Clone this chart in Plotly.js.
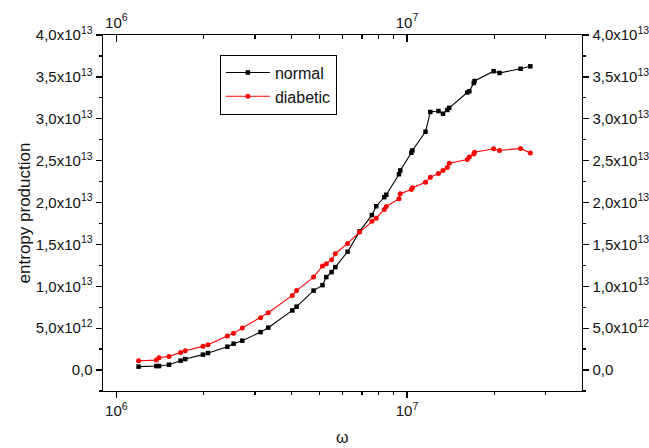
<!DOCTYPE html>
<html>
<head>
<meta charset="utf-8">
<script src="https://cdn.plot.ly/plotly-3.0.1.min.js"></script>
<style>
  html, body { margin: 0; padding: 0; background: #fff; }
  #chart { width: 649px; height: 448px; }
</style>
</head>
<body>
<div id="chart"></div>
<script>
// frequency ω (shared by both series)
const omega = [1.193e6, 1.373e6, 1.403e6, 1.518e6, 1.664e6, 1.727e6, 1.987e6, 2.067e6,
  2.409e6, 2.532e6, 2.713e6, 3.136e6, 3.333e6, 4.031e6, 4.171e6, 4.772e6, 5.121e6,
  5.277e6, 5.504e6, 5.668e6, 6.248e6, 6.870e6, 7.572e6, 7.841e6, 8.355e6, 8.489e6,
  9.386e6, 9.484e6, 1.035e7, 1.044e7, 1.158e7, 1.203e7, 1.283e7, 1.330e7, 1.376e7,
  1.398e7, 1.612e7, 1.638e7, 1.697e7, 1.708e7, 1.986e7, 2.081e7, 2.459e7, 2.656e7];

// entropy production, normal
const normal = [0.41e12, 0.48e12, 0.48e12, 0.64e12, 1.12e12, 1.31e12, 1.84e12, 2.03e12,
  2.79e12, 3.15e12, 3.51e12, 4.53e12, 5.06e12, 7.12e12, 7.57e12, 9.49e12, 10.14e12,
  11.10e12, 11.69e12, 12.29e12, 14.13e12, 16.55e12, 18.50e12, 19.56e12, 20.64e12, 20.93e12,
  23.38e12, 23.83e12, 25.95e12, 26.22e12, 28.45e12, 30.81e12, 30.93e12, 30.60e12, 31.05e12,
  31.31e12, 33.14e12, 33.28e12, 34.27e12, 34.51e12, 35.68e12, 35.47e12, 35.97e12, 36.26e12];

// entropy production, diabetic
const diabetic = [1.12e12, 1.19e12, 1.48e12, 1.63e12, 2.11e12, 2.31e12, 2.83e12, 3.03e12,
  4.06e12, 4.38e12, 5.01e12, 6.25e12, 6.85e12, 8.91e12, 9.49e12, 11.10e12, 12.43e12,
  12.70e12, 13.17e12, 13.89e12, 15.12e12, 16.47e12, 17.78e12, 18.13e12, 19.18e12, 19.53e12,
  20.45e12, 21.05e12, 21.56e12, 21.77e12, 22.43e12, 23.03e12, 23.47e12, 23.83e12, 24.19e12,
  24.70e12, 25.14e12, 25.44e12, 25.80e12, 26.01e12, 26.42e12, 26.22e12, 26.46e12, 25.92e12];

// tick labels
const yTickVals = [0, 5e12, 1e13, 1.5e13, 2e13, 2.5e13, 3e13, 3.5e13, 4e13];
const yTickText = ['0,0', '5,0x10<sup>12</sup>', '1,0x10<sup>13</sup>', '1,5x10<sup>13</sup>',
  '2,0x10<sup>13</sup>', '2,5x10<sup>13</sup>', '3,0x10<sup>13</sup>', '3,5x10<sup>13</sup>',
  '4,0x10<sup>13</sup>'];
const yMinorVals = [-2.5e12, 2.5e12, 7.5e12, 1.25e13, 1.75e13, 2.25e13, 2.75e13, 3.25e13, 3.75e13];
const xTickVals = [1e6, 1e7];
const xTickText = ['10<sup>6</sup>', '10<sup>7</sup>'];
const xMinorVals = [2e6, 3e6, 4e6, 5e6, 6e6, 7e6, 8e6, 9e6, 2e7, 3e7];
const xTitle = 'ω';
const yTitle = 'entropy production';

const FONT = 'Arial, "Liberation Sans", sans-serif';
const xRange = [Math.log10(9e5), Math.log10(4e7)];
const yRange = [-2.5e12, 4e13];

const traces = [
  { x: omega, y: normal, name: 'normal', type: 'scatter', mode: 'lines+markers',
    xaxis: 'x', yaxis: 'y',
    line: { color: '#000000', width: 1.1 }, marker: { symbol: 'square', size: 4.5, color: '#000000' } },
  { x: omega, y: diabetic, name: 'diabetic', type: 'scatter', mode: 'lines+markers',
    xaxis: 'x2', yaxis: 'y2',
    line: { color: '#ff0000', width: 1.1 }, marker: { symbol: 'circle', size: 5, color: '#ff0000' } }
];

const xCommon = {
  type: 'log', range: xRange, tickmode: 'array', tickvals: xTickVals, ticktext: xTickText,
  showgrid: false, zeroline: false, showline: true, linecolor: '#000', linewidth: 1.4,
  tickcolor: '#000', tickwidth: 1.3, tickfont: { family: FONT, size: 15, color: '#111' }
};
const yCommon = {
  type: 'linear', range: yRange, tickmode: 'array', tickvals: yTickVals, ticktext: yTickText,
  showgrid: false, zeroline: false, showline: true, linecolor: '#000', linewidth: 1.4,
  tickcolor: '#000', tickwidth: 1.3, ticks: 'outside', ticklen: 6,
  tickfont: { family: FONT, size: 15, color: '#111' },
  minor: { tickmode: 'array', tickvals: yMinorVals, ticks: 'outside', ticklen: 3, tickcolor: '#000', tickwidth: 1.3 }
};

const layout = {
  width: 649, height: 448,
  margin: { l: 103, r: 67, t: 35, b: 57 },
  paper_bgcolor: '#fff', plot_bgcolor: '#fff',
  font: { family: FONT, color: '#111' },
  showlegend: true,
  legend: {
    x: 0.244, y: 0.945, xanchor: 'left', yanchor: 'top',
    bgcolor: '#fff', bordercolor: '#000', borderwidth: 1,
    font: { family: FONT, size: 16, color: '#111' },
    itemwidth: 44, tracegroupgap: 0
  },
  xaxis: Object.assign({}, xCommon, {
    side: 'bottom', anchor: 'y', ticks: 'outside', ticklen: 6,
    minor: { tickmode: 'array', tickvals: xMinorVals, ticks: 'outside', ticklen: 3, tickcolor: '#000', tickwidth: 1.3 }
  }),
  xaxis2: Object.assign({}, xCommon, {
    overlaying: 'x', side: 'top', anchor: 'y2', ticks: 'inside', ticklen: 7,
    minor: { tickmode: 'array', tickvals: xMinorVals, ticks: 'inside', ticklen: 4, tickcolor: '#000', tickwidth: 1.3 }
  }),
  yaxis: Object.assign({}, yCommon, {
    side: 'left', anchor: 'x',
    title: { text: yTitle, font: { family: FONT, size: 17, color: '#111' } }
  }),
  yaxis2: Object.assign({}, yCommon, { overlaying: 'y', side: 'right', anchor: 'x2' }),
  annotations: [
    { text: xTitle, xref: 'paper', yref: 'paper', x: 0.5, y: -0.157,
      xanchor: 'center', yanchor: 'bottom', showarrow: false, borderpad: 0,
      font: { family: FONT, size: 16, color: '#111' } }
  ]
};

Plotly.newPlot('chart', traces, layout, { displayModeBar: false, staticPlot: true });
</script>
</body>
</html>
